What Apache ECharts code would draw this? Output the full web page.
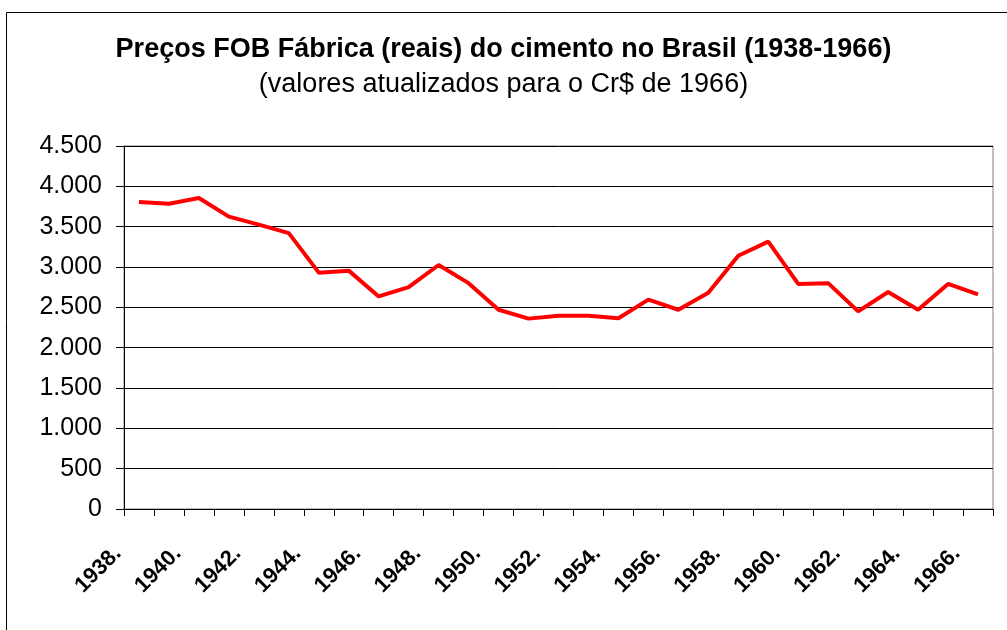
<!DOCTYPE html>
<html>
<head>
<meta charset="utf-8">
<script src="https://cdn.jsdelivr.net/npm/echarts@6/dist/echarts.min.js"></script>
<style>
  html, body { margin: 0; padding: 0; background: #fff; }
  #main { width: 1007px; height: 630px; }
</style>
</head>
<body>
<div id="main"></div>
<script>
// anos 1938-1966
var years = ['1938', '1939', '1940', '1941', '1942', '1943', '1944', '1945', '1946', '1947',
  '1948', '1949', '1950', '1951', '1952', '1953', '1954', '1955', '1956', '1957',
  '1958', '1959', '1960', '1961', '1962', '1963', '1964', '1965', '1966'];
// precos FOB (Cr$ de 1966)
var prices = [3805, 3785, 3855, 3625, 3525, 3420, 2930, 2955, 2635, 2750,
  3025, 2800, 2470, 2360, 2395, 2395, 2365, 2595, 2470, 2680,
  3140, 3315, 2790, 2800, 2450, 2690, 2470, 2790, 2660];
var yTicks = { min: 0, max: 4500, step: 500 };

var titleText = 'Preços FOB Fábrica (reais) do cimento no Brasil (1938-1966)';
var subText = '(valores atualizados para o Cr$ de 1966)';

var chart = echarts.init(document.getElementById('main'), null, { renderer: 'canvas' });

function fmtThousands(v) {
  return String(v).replace(/\B(?=(\d{3})+(?!\d))/g, '.');
}

var option = {
  backgroundColor: '#fff',
  animation: false,
  textStyle: { fontFamily: 'Liberation Sans, Arial, sans-serif' },
  title: {
    text: titleText,
    subtext: subText,
    left: 'center',
    top: 31,
    itemGap: 8,
    textStyle: { fontSize: 27, fontWeight: 'bold', color: '#000' },
    subtextStyle: { fontSize: 27, color: '#000' }
  },
  graphic: [{
    type: 'rect',
    shape: { x: 6.5, y: 12.5, width: 1010, height: 640 },
    style: { fill: 'none', stroke: '#000', lineWidth: 1 },
    silent: true
  }],
  grid: {
    left: 124,
    right: 14,
    top: 146,
    bottom: 121,
    show: true,
    borderColor: '#808080',
    borderWidth: 1
  },
  xAxis: {
    type: 'category',
    data: years,
    boundaryGap: true,
    axisLine: { show: true, lineStyle: { color: '#000', width: 1 } },
    axisTick: { show: true, interval: 0, length: 7, lineStyle: { color: '#000', width: 1 } },
    axisLabel: {
      interval: 1,
      rotate: 45,
      margin: 20,
      padding: [0, 30, 0, 0],
      color: '#000',
      fontSize: 22,
      fontWeight: 'bold',
      formatter: function (v) { return v + '.'; }
    }
  },
  yAxis: {
    type: 'value',
    min: yTicks.min,
    max: yTicks.max,
    interval: yTicks.step,
    axisLine: { show: true, lineStyle: { color: '#000', width: 1 } },
    axisTick: { show: true, length: 8, lineStyle: { color: '#000' } },
    axisLabel: {
      margin: 22,
      color: '#000',
      fontSize: 25,
      formatter: fmtThousands
    },
    splitLine: { lineStyle: { color: '#000', width: 1 } }
  },
  series: [{
    name: 'Preço',
    type: 'line',
    data: prices,
    symbol: 'none',
    lineStyle: { color: '#ff0000', width: 4 },
    itemStyle: { color: '#ff0000' }
  }]
};

chart.setOption(option);
</script>
</body>
</html>
